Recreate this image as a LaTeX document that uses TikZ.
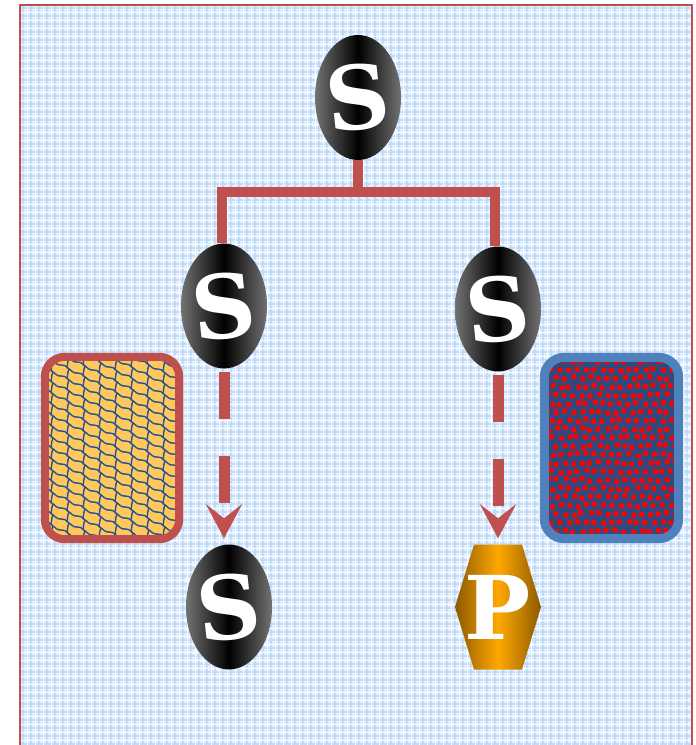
\documentclass[tikz,border=0pt]{standalone}
\usepackage{fontspec}
\usepackage{graphicx}
\newfontfamily\slabfont{DejaVu Serif}
\usetikzlibrary{arrows.meta,calc,shapes.geometric}

\definecolor{brick}{RGB}{192,80,77}
\definecolor{steel}{RGB}{79,129,189}
\definecolor{sky}{RGB}{226,239,255}
\definecolor{skyline}{RGB}{192,220,250}
\definecolor{sand}{RGB}{255,200,92}
\definecolor{ink}{RGB}{38,82,145}
\definecolor{navy}{RGB}{46,74,126}
\definecolor{amber}{RGB}{255,168,0}
\definecolor{umber}{RGB}{140,90,0}

\tikzset{
  letter/.style={inner sep=0pt, text=white, font=\slabfont\bfseries\fontsize{88}{88}\selectfont},
  sball/.style={ellipse, minimum width=86pt, minimum height=125pt, inner sep=0pt,
    left color=black!55, right color=black!55, middle color=black,
    label={[letter]center:{\rotatebox{6}{#1}}}},
  conn/.style={draw=brick, line width=10pt, line join=miter},
  dasharrow/.style={draw=brick, line width=11pt, dash pattern=on 47pt off 37pt,
    -{Stealth[length=34pt,width=36pt,inset=14pt]}, shorten <=3pt, shorten >=6pt},
  card/.style={minimum width=134pt, inner sep=0pt},
  cardedge/.style={rounded corners=20pt, line width=#1},
}

\begin{document}
\begin{tikzpicture}[x=1pt,y=-1pt]
  \useasboundingbox (0,0) rectangle (696,745);
  \clip (0,0) rectangle (696,745);

  % gridded sheet
  \fill[sky] (20,5) rectangle (692,760);
  \begin{scope}
    \clip (20,5) rectangle (692,760);
    \foreach \x in {23,31,...,692} \draw[skyline, line width=1.3pt] (\x,5) -- (\x,760);
    \foreach \y in {8,16,...,760} \draw[skyline, line width=1.3pt] (20,\y) -- (692,\y);
    \foreach \x in {27,35,...,692} \draw[white, line width=0.8pt] (\x,5) -- (\x,760);
    \foreach \y in {12,20,...,760} \draw[white, line width=0.8pt] (20,\y) -- (692,\y);
  \end{scope}
  \draw[brick, line width=1.8pt] (20,760) -- (20,5) -- (692,5) -- (692,760);

  % shingled card on the left
  \node[card, minimum height=182pt] (lcard) at (112,448) {};
  \begin{scope}
    \clip[rounded corners=20pt] (lcard.north west) rectangle (lcard.south east);
    \fill[sand] (lcard.north west) rectangle (lcard.south east);
    \foreach \i in {-1,...,9}
      \foreach \j in {-14,...,18}
        \draw[ink, line width=1.4pt, line cap=round]
          ({45+16*\i}, {357+11*\j+8*\i}) .. controls +(5,-2) and +(-6,1) .. ++(16,8)
          ({53+16*\i}, {361+11*\j+8*\i}) .. controls +(-2,4) and +(1,-3) .. ++(-2,10);
  \end{scope}
  \draw[cardedge=8pt, brick] (lcard.north west) rectangle (lcard.south east);

  % dotted card on the right
  \node[card, minimum height=181pt] (rcard) at (611.5,448) {};
  \begin{scope}
    \clip[rounded corners=20pt] (rcard.north west) rectangle (rcard.south east);
    \fill[navy] (rcard.north west) rectangle (rcard.south east);
    \pgfmathsetseed{17}
    \foreach \i in {-1,...,17}
      \foreach \j in {-1,...,23} {
        \pgfmathsetmacro{\dx}{544+8.5*\i+4*mod(\j,2)+3*rnd}
        \pgfmathsetmacro{\dy}{357+8.5*\j+3*rnd}
        \fill[red, rounded corners=1pt] (\dx,\dy) rectangle ++(5,5);
      }
  \end{scope}
  \draw[cardedge=9pt, steel] (rcard.north west) rectangle (rcard.south east);

  % tree nodes
  \node[sball=S] (top) at (358,97.5) {};
  \node[sball=S] (l)   at (224,306)  {};
  \node[sball=S] (r)   at (498,309)  {};
  \node[sball=S] (bl)  at (229,607)  {};

  % hexagonal leaf
  \node[minimum width=86pt, minimum height=125pt, inner sep=0pt] (p) at (498,607) {};
  \shade[left color=umber, right color=umber, middle color=amber]
    ($(p.center)+(-24,-62.5)$) -- ($(p.center)+(24,-62.5)$) -- ($(p.center)+(43,0)$)
    -- ($(p.center)+(24,62.5)$) -- ($(p.center)+(-24,62.5)$) -- ($(p.center)+(-43,0)$) -- cycle;
  \node[letter] (ptext) at (p.center) {P};

  % branch connectors
  \coordinate (jl) at (222,192);
  \coordinate (jr) at (495,192);
  \draw[conn] (top.south) -- (top.south |- jl);
  \draw[conn] (l.north -| jl) -- (jl) -- (jr) -- (r.north -| jr);

  % dashed arrows to the leaves
  \draw[dasharrow] (l.south) -- (l.south |- bl.north);
  \draw[dasharrow] (r.south) -- (p.north);
\end{tikzpicture}
\end{document}
